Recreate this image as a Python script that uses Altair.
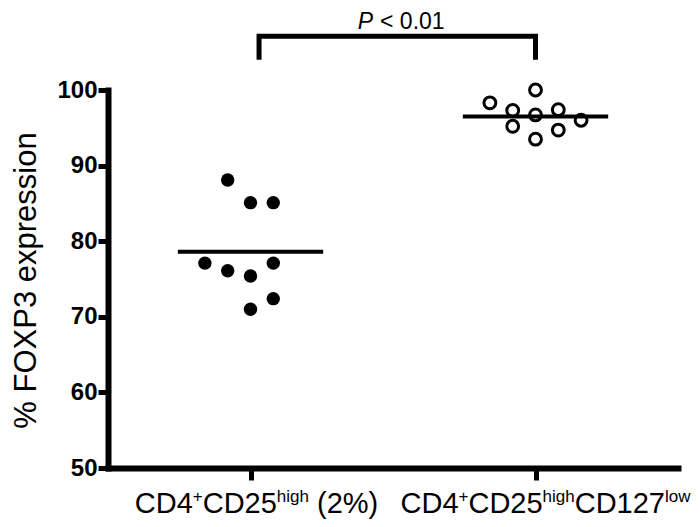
import altair as alt
import pandas as pd

# ── data ───────────────────────────────────────────────────────────────────
group_pos = [1, 2]
group1_values = [88.1, 85.1, 85.1, 77.1, 76.1, 75.4, 77.1, 71.0, 72.4]
group1_cols = [-1, 0, 1, -2, -1, 0, 1, 0, 1]
group2_values = [98.3, 100.0, 97.3, 96.7, 97.4, 96.0, 95.2, 93.5, 94.7]
group2_cols = [-2, 0, -1, 0, 1, 2, -1, 0, 1]
group_means = [78.6, 96.5]
y_ticks = [50, 60, 70, 80, 90, 100]

# category labels, split in (text, superscript?) pieces
label_1 = [("CD4", False), ("+", True), ("CD25", False), ("high", True), (" (2%)", False)]
label_2 = [("CD4", False), ("+", True), ("CD25", False), ("high", True),
           ("CD127", False), ("low", True)]
labels = [label_1, label_2]

p_italic = "P"
p_rest = "< 0.01"
bracket_x = [1.03, 2.0]
bracket_y = [104.0, 107.1]
p_text_x = 1.43
p_text_y = 108.05

# ── layout ─────────────────────────────────────────────────────────────────
W, H = 570, 378
X_DOMAIN = [0.5, 2.5]
PX = (X_DOMAIN[1] - X_DOMAIN[0]) / W     # data units per pixel on x
COL_STEP = 0.08
F_MAIN, F_SUP = 29, 17
label_shift = [6, 10]

# Arial / Liberation Sans advance widths (1/1000 em)
ADV = {"C": 722, "D": 722, "4": 556, "+": 584, "2": 556, "5": 556, "h": 556,
       "i": 222, "g": 556, " ": 278, "(": 333, "%": 889, ")": 333,
       "1": 556, "7": 556, "l": 222, "o": 556, "w": 722}


def largura(txt, size):
    return sum(ADV[c] for c in txt) / 1000 * size


rows = []
for g, lab, sh in zip(group_pos, labels, label_shift):
    total = sum(largura(t, F_SUP if s else F_MAIN) for t, s in lab)
    cur = -total / 2 + sh
    for t, s in lab:
        size = F_SUP if s else F_MAIN
        lead = largura(t[: len(t) - len(t.lstrip())], size)   # leading blank
        rows.append({"x": g + (cur + lead) * PX, "txt": t.strip(), "sup": s})
        cur += largura(t, size)
df_lab = pd.DataFrame(rows)

pts1 = pd.DataFrame({"x": [1 + c * COL_STEP for c in group1_cols], "y": group1_values})
pts2 = pd.DataFrame({"x": [2 + c * COL_STEP for c in group2_cols], "y": group2_values})
means = pd.DataFrame({"x": [g - 0.255 for g in group_pos],
                      "x2": [g + 0.255 for g in group_pos], "y": group_means})
bracket = pd.DataFrame({
    "x": [bracket_x[0], bracket_x[0], bracket_x[1], bracket_x[1]],
    "y": [bracket_y[0], bracket_y[1], bracket_y[1], bracket_y[0]],
    "o": [0, 1, 2, 3],
})
ptxt = pd.DataFrame({"x": [p_text_x], "x2": [p_text_x + 7 * PX],
                     "y": [p_text_y], "a": [p_italic], "b": [p_rest]})

FONT = "Liberation Sans"
xs = alt.Scale(domain=X_DOMAIN, nice=False, zero=False)
ys = alt.Scale(domain=[50, 100], nice=False, zero=False)

x_axis = alt.Axis(values=group_pos, labels=False, title=None, grid=False,
                  tickSize=12, tickColor="black", domainColor="black")
y_axis = alt.Axis(values=y_ticks, grid=False, title="% FOXP3 expression",
                  tickSize=10, tickColor="black", domainColor="black",
                  labelFont=FONT, labelFontWeight="bold",
                  labelFontSize=24, labelColor="black", labelPadding=1,
                  titleFont=FONT, titleFontSize=31, titleFontWeight="normal",
                  titleColor="black", titleAngle=270, titleAlign="center",
                  titleBaseline="alphabetic", titleX=-73, titleY=190)

X = alt.X("x:Q", scale=xs, axis=x_axis)
Y = alt.Y("y:Q", scale=ys, axis=y_axis)

cheios = alt.Chart(pts1).mark_circle(color="black", size=180, opacity=1).encode(x=X, y=Y)
vazios = alt.Chart(pts2).mark_point(shape="circle", filled=False, stroke="black",
                                    strokeWidth=3, size=140, opacity=1).encode(x=X, y=Y)
medias = alt.Chart(means).mark_rule(color="black", strokeWidth=4).encode(
    x=X, x2="x2:Q", y=Y)
colchete = alt.Chart(bracket).mark_line(color="black", strokeWidth=5,
                                        strokeJoin="miter").encode(x=X, y=Y, order="o:Q")
p1 = alt.Chart(ptxt).mark_text(font=FONT, fontSize=23, fontStyle="italic",
                               align="right", baseline="alphabetic", color="black").encode(
    x=X, y=Y, text="a:N")
p2 = alt.Chart(ptxt).mark_text(font=FONT, fontSize=23, align="left",
                               baseline="alphabetic", color="black").encode(
    x=alt.X("x2:Q", scale=xs, axis=x_axis), y=Y, text="b:N")

rot_norm = alt.Chart(df_lab).transform_filter("!datum.sup").mark_text(
    font=FONT, fontSize=F_MAIN, align="left", baseline="alphabetic", color="black"
).encode(x=X, y=alt.value(423), text="txt:N")
rot_sup = alt.Chart(df_lab).transform_filter("datum.sup").mark_text(
    font=FONT, fontSize=F_SUP, align="left", baseline="alphabetic", color="black"
).encode(x=X, y=alt.value(412), text="txt:N")

chart = alt.layer(cheios, vazios, medias, colchete, p1, p2, rot_norm, rot_sup).properties(
    width=W, height=H,
    autosize=alt.AutoSizeParams(type="none"),
    padding={"left": 100, "top": 82, "right": 14, "bottom": 51},
).configure_view(stroke=None).configure_axis(
    domainWidth=6, tickWidth=5, domainCap="square"
)

chart.save("out.html", embed_options={"renderer": "svg", "actions": False})
